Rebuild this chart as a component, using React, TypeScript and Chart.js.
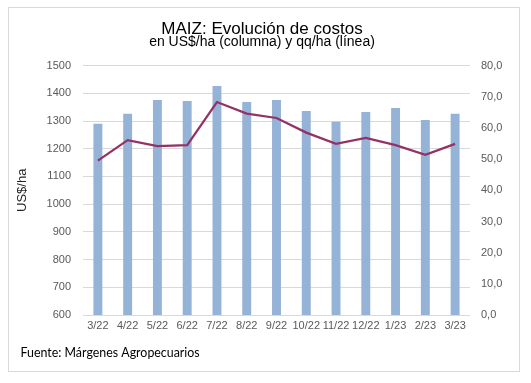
import React, { useEffect, useRef } from "react";
import { Chart, registerables } from "chart.js";

Chart.register(...registerables);

const titleText = "MAIZ: Evolución de costos";
const subtitleText = "en US$/ha (columna) y qq/ha (línea)";
const sourceText = "Fuente: Márgenes Agropecuarios";
const leftAxisTitle = "US$/ha";

const categories = ["3/22", "4/22", "5/22", "6/22", "7/22", "8/22", "9/22", "10/22", "11/22", "12/22", "1/23", "2/23", "3/23"];
const costsUsdHa = [1290, 1326, 1376, 1372, 1426, 1369, 1376, 1336, 1297, 1333, 1347, 1304, 1326];
const yieldQqHa = [49.5, 56.1, 54.2, 54.5, 68.3, 64.6, 63.2, 58.5, 54.9, 56.8, 54.5, 51.4, 54.9];

const leftMin = 600;
const leftMax = 1500;
const leftStep = 100;
const rightMin = 0;
const rightMax = 80;
const rightStep = 10;

const W = 531;
const H = 383;

const decorPlugin = {
  id: "decor",
  beforeDraw(chart: any) {
    const ctx = chart.ctx;
    ctx.save();
    ctx.fillStyle = "#ffffff";
    ctx.fillRect(0, 0, W, H);
    ctx.strokeStyle = "#d9d9d9";
    ctx.lineWidth = 1;
    ctx.strokeRect(8.5, 7.5, 511, 364);
    ctx.restore();
  },
  afterDraw(chart: any) {
    const ctx = chart.ctx;
    ctx.save();
    ctx.fillStyle = "#000000";
    ctx.textAlign = "center";
    ctx.textBaseline = "alphabetic";
    ctx.font = "17px 'Liberation Sans', Arial, sans-serif";
    ctx.fillText(titleText, 262, 33.5);
    ctx.font = "14px 'Liberation Sans', Arial, sans-serif";
    ctx.fillText(subtitleText, 262, 46);
    ctx.textAlign = "left";
    ctx.font = "12.4px Lato, 'Open Sans', sans-serif";
    ctx.fillText(sourceText, 20.5, 357);
    ctx.restore();
  },
};

export default function App() {
  const ref = useRef<HTMLCanvasElement | null>(null);

  useEffect(() => {
    if (!ref.current) return;
    const tickFont = { family: "'Liberation Sans', Arial, sans-serif", size: 11 };
    const chart = new Chart(ref.current, {
      type: "bar",
      data: {
        labels: categories,
        datasets: [
          {
            type: "line",
            label: "qq/ha",
            data: yieldQqHa,
            yAxisID: "y1",
            borderColor: "#953264",
            backgroundColor: "#953264",
            borderWidth: 2.25,
            pointRadius: 0,
            tension: 0,
            order: 0,
          } as any,
          {
            type: "bar",
            label: "US$/ha",
            data: costsUsdHa,
            yAxisID: "y",
            backgroundColor: "#95b3d7",
            borderWidth: 0,
            barPercentage: 0.3,
            categoryPercentage: 1,
            order: 1,
          },
        ],
      },
      options: {
        responsive: false,
        animation: false,
        devicePixelRatio: 1,
        layout: { padding: { top: 65.6, left: 14, right: 16, bottom: 38 } },
        plugins: {
          legend: { display: false },
          tooltip: { enabled: false },
        },
        scales: {
          x: {
            grid: { display: false, drawTicks: false },
            border: { display: false },
            ticks: { font: tickFont, color: "#595959", padding: 4, maxRotation: 0, autoSkip: false },
            afterFit(scale: any) {
              scale.height = 30;
            },
          },
          y: {
            position: "left",
            min: leftMin,
            max: leftMax,
            ticks: {
              stepSize: leftStep,
              font: tickFont,
              color: "#595959",
              padding: 12,
              callback: (v: any) => String(v),
            },
            grid: { color: "#d9d9d9", lineWidth: 1, drawTicks: false },
            border: { display: false },
            title: {
              display: true,
              text: leftAxisTitle,
              color: "#262626",
              font: { family: "'Liberation Sans', Arial, sans-serif", size: 13 },
              padding: { top: 1, bottom: 0 },
            },
            afterFit(scale: any) {
              scale.width = 69;
            },
          },
          y1: {
            position: "right",
            min: rightMin,
            max: rightMax,
            ticks: {
              stepSize: rightStep,
              font: tickFont,
              color: "#595959",
              padding: 11,
              callback: (v: any) => Number(v).toFixed(1).replace(".", ","),
            },
            grid: { display: false, drawTicks: false },
            border: { display: false },
            afterFit(scale: any) {
              scale.width = 45;
            },
          },
        },
      },
      plugins: [decorPlugin],
    });
    return () => chart.destroy();
  }, []);

  return (
    <div style={{ position: "fixed", left: 0, top: 0, width: W, height: H, background: "#fff" }}>
      <canvas ref={ref} width={W} height={H} style={{ width: W, height: H, display: "block" }} />
    </div>
  );
}
